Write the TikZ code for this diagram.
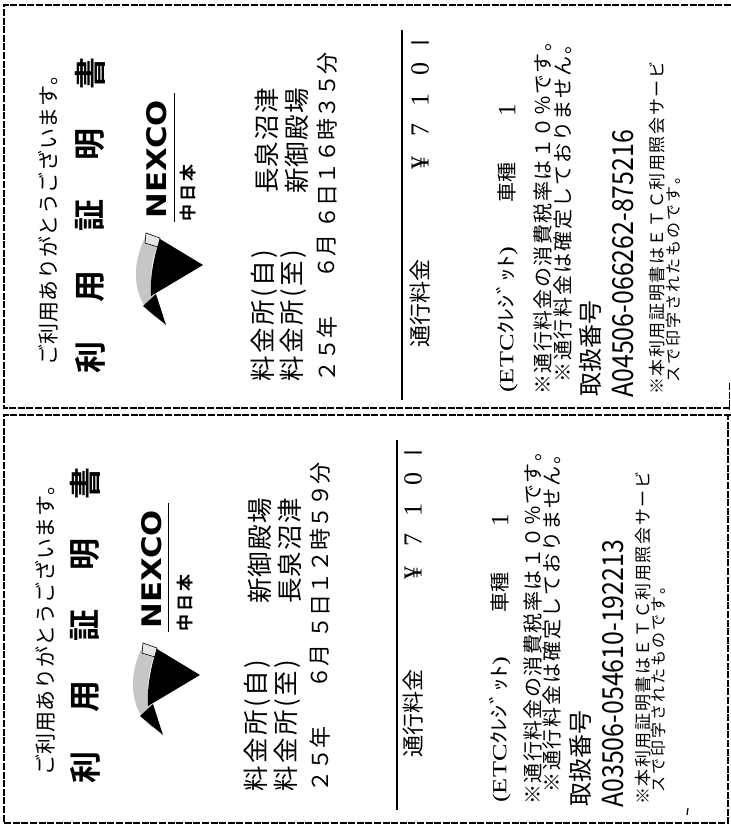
\documentclass[tikz,border=0pt]{standalone}
\usepackage{fontspec}
\usepackage{graphicx}
\newfontfamily\jp{Noto Sans CJK JP}[BoldFont={Noto Sans CJK JP Bold}]
\newfontfamily\srf{Liberation Serif}
\newfontfamily\logofont{DejaVu Sans}[BoldFont={DejaVu Sans Bold}]
\newcommand\fsz[1]{\fontsize{#1pt}{#1pt}\selectfont}
\makeatletter
\newdimen\lsp@k
\newcommand\lspaced[2]{\lsp@k=#1pt\relax\lsp@loop#2\relax}
\def\lsp@loop#1{\ifx\relax#1\else#1\kern\lsp@k\expandafter\lsp@loop\fi}
\makeatother
\tikzset{
 rt/.style={rotate=90,anchor=west,inner sep=0pt},
 rtc/.style={rotate=90,anchor=center,inner sep=0pt},
 bigch/.style={rtc,font=\jp\bfseries\fsz{32}},
 bord/.style={line width=1.1pt,dash pattern=on 7pt off 1.6pt},
 rulest/.style={line width=2.4pt},
 logoline/.style={line width=0.9pt},
}
\newcommand\rline[6]{\node[rt,font=\jp\fsz{#4}] (#1) at (#2,#3) {\lspaced{#5}{#6}};}
% #1 prefix, #2 from, #3 to, #4 day/time, #5 id
\newcommand\panel[5]{%
 \rline{#1-thanks}{\qa}{361}{21}{0.6}{ご利用ありがとうございます。}
 \node[bigch] (#1-c1) at (\qb,352) {利};
 \node[bigch] (#1-c2) at (\qb,281) {用};
 \node[bigch] (#1-c3) at (\qb,210) {証};
 \node[bigch] (#1-c4) at (\qb,139) {明};
 \node[bigch] (#1-c5) at (\qb,68) {書};
 \begin{scope}[shift={(\qt,0)}]
  \fill[gray!45] (147,229) -- (160,234) .. controls (150,257) and (147,277) .. (160,305)
     -- (156,313) .. controls (131,295) and (131,257) .. (147,229) -- cycle;
  \filldraw[fill=gray!20,draw=black,line width=0.6pt] (146,228) -- (160,233) -- (158,242) -- (145,238) -- cycle;
  \fill[black] (160,234) -- (203,260) -- (151,291) .. controls (150,275) and (153,253) .. (160,234) -- cycle;
  \fill[black] (143,301) -- (156,289) -- (166,320) -- cycle;
 \end{scope}
 \node[rtc] (#1-nexco) at (\qc,154) {\resizebox{118pt}{20pt}{\logofont\bfseries NEXCO}};
 \coordinate (#1-u1) at (\qd,88);
 \coordinate (#1-u2) at (\qd,217);
 \draw[logoline] (#1-u1) -- (#1-u2);
 \node[rt,font=\jp\bfseries\fsz{17}] (#1-cnj) at (\qe,217) {\lspaced{3}{中日本}};
 \rline{#1-fa}{\qf}{377}{25.5}{2.5}{料金所(自)}
 \rline{#1-sa}{\qg}{189}{25.5}{1.3}{#2}
 \rline{#1-fb}{\qh}{377}{25.5}{2.5}{料金所(至)}
 \rline{#1-sb}{\qi}{189}{25.5}{1.3}{#3}
 \rline{#1-d1}{\qj}{378}{22}{0}{２５年}
 \rline{#1-d2}{\qj}{274}{22}{0}{６月}
 \rline{#1-d3}{\qj}{224}{22}{0}{#4}
 \coordinate (#1-r1) at (\qk,25);
 \coordinate (#1-r2) at (\qk,395);
 \draw[rulest] (#1-r1) -- (#1-r2);
 \rline{#1-toll}{\ql}{343}{22}{0}{通行料金}
 \node[rtc,font=\srf\fsz{26}] (#1-yen) at (\ql,158) {¥};
 \node[rtc,font=\srf\fsz{26}] (#1-d7) at (\ql,125) {7};
 \node[rtc,font=\srf\fsz{26}] (#1-d1x) at (\ql,95) {1};
 \node[rtc,font=\srf\fsz{26}] (#1-d0) at (\ql,64) {0};
 \node[rtc,font=\jp\fsz{22}] (#1-bar) at (\ql,34) {\rotatebox[origin=c]{90}{ー}};
 \node[rt,font=\jp\fsz{20}] (#1-etc) at (\qm,388) {\resizebox{146pt}{\height}{{\srf(ETC}ｸﾚｼﾞｯﾄ{\srf)}}};
 \node[rtc,font=\jp\fsz{20}] (#1-kind) at (\qm,177) {車種};
 \node[rtc,font=\srf\fsz{25}] (#1-one) at (\qm,105) {1};
 \rline{#1-n1}{\qn}{390}{20}{1.45}{※通行料金の消費税率は１０％です。}
 \rline{#1-n2}{\qo}{378}{20}{1.9}{※通行料金は確定しておりません。}
 \rline{#1-no}{\qp}{392}{24}{0}{取扱番号}
 \node[rt,font=\jp\fsz{29}] (#1-id) at (\qq,393) {\resizebox{268pt}{\height}{#5}};
 \rline{#1-n3}{\qr}{390}{17}{1.6}{※本利用証明書はＥＴＣ利用照会サービ}
 \rline{#1-n4}{\qs}{378}{16}{2}{スで印字されたものです。}
}
\begin{document}
\begin{tikzpicture}[x=1pt,y=-1pt]
\fill[white] (0,0) rectangle (731,833);
\useasboundingbox (0,0) rectangle (731,833);
% borders
\draw[bord] (731,5) -- (4,5) -- (4,408) -- (731,408);
\draw[bord] (729.5,383) -- (729.5,410);
\draw[bord] (731,415) -- (4,415) -- (4,823) -- (728,823) -- (728,415);
% top panel
\def\qa{48}\def\qb{90}\def\qc{157}\def\qd{174}\def\qe{188}
\def\qf{264}\def\qg{267}\def\qh{293}\def\qi{297}\def\qj{327}
\def\qk{402}\def\ql{420}\def\qm{507}\def\qn{543}\def\qo{563}
\def\qp{590}\def\qq{623}\def\qr{657}\def\qs{673}\def\qt{0}
\begin{scope}[shift={(0,5)}]
\panel{a}{長泉沼津}{新御殿場}{６日１６時３５分}{A04506-066262-875216}
\end{scope}
% bottom panel
\def\qa{45}\def\qb{85}\def\qc{152}\def\qd{168}\def\qe{185}
\def\qf{257}\def\qg{260}\def\qh{287}\def\qi{290}\def\qj{320}
\def\qk{397}\def\ql{413}\def\qm{500}\def\qn{533}\def\qo{552}
\def\qp{580}\def\qq{613}\def\qr{643}\def\qs{658}\def\qt{-3}
\begin{scope}[shift={(0,415)}]
\panel{b}{新御殿場}{長泉沼津}{５日１２時５９分}{A03506-054610-192213}
\end{scope}
\coordinate (tick1) at (688,808);
\coordinate (tick2) at (687,815);
\draw[line width=1.2pt] (tick1) -- (tick2);
\end{tikzpicture}
\end{document}
